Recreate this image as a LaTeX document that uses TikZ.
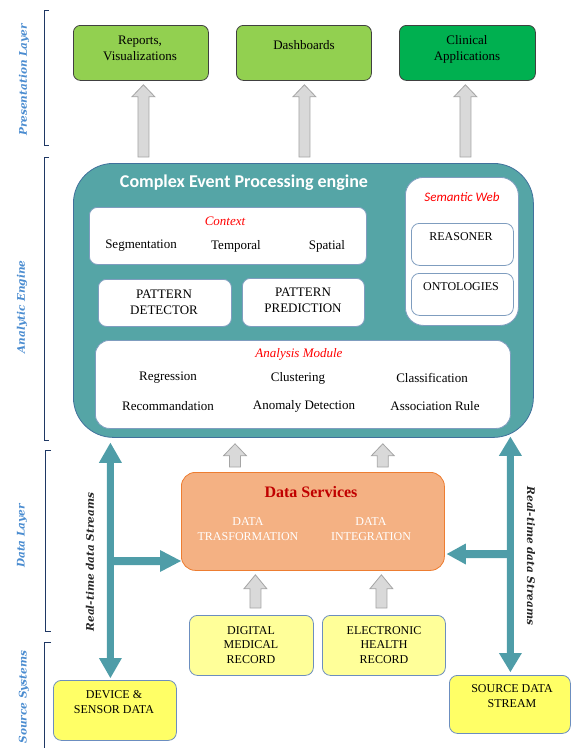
\documentclass[tikz,border=0pt]{standalone}
\usepackage{fontspec}
\setmainfont{Liberation Serif}
\newfontfamily\calfont{Carlito}
\newfontfamily\labfont{DejaVu Serif}
\usetikzlibrary{calc}
\definecolor{cepfill}{HTML}{55A5A6}
\definecolor{cepdraw}{HTML}{41719C}
\definecolor{tealarrow}{HTML}{4F9DA8}
\definecolor{lgreen}{HTML}{92D050}
\definecolor{dgreen}{HTML}{00B050}
\definecolor{innerdraw}{HTML}{7F9DBF}
\definecolor{garrfill}{HTML}{D9D9D9}
\definecolor{garrdraw}{HTML}{A5A5A5}
\definecolor{dsfill}{HTML}{F4B183}
\definecolor{dsdraw}{HTML}{ED7D31}
\definecolor{dsred}{HTML}{C00000}
\definecolor{ylight}{HTML}{FFFF99}
\definecolor{ybright}{HTML}{FFFF66}
\definecolor{ydraw}{HTML}{6C8EBF}
\definecolor{labblue}{HTML}{4A8CD0}
\definecolor{brknavy}{HTML}{1F3864}
\newcommand\blockarrow[6]{%
  \coordinate (bah) at ($(#3)!#6!(#2)$);
  \path[#1] ($(#2)!#4!90:(#3)$) -- ($(bah)!#4!-90:(#2)$) -- ($(bah)!#5!-90:(#2)$) -- (#3)
    -- ($(bah)!#5!90:(#2)$) -- ($(bah)!#4!90:(#2)$) -- ($(#2)!#4!-90:(#3)$) -- cycle;}
\newcommand\dblblockarrow[6]{%
  \coordinate (dba) at ($(#2)!#6!(#3)$);
  \coordinate (dbb) at ($(#3)!#6!(#2)$);
  \path[#1] (#2) -- ($(dba)!#5!90:(#3)$) -- ($(dba)!#4!90:(#3)$) -- ($(dbb)!#4!-90:(#2)$)
    -- ($(dbb)!#5!-90:(#2)$) -- (#3) -- ($(dbb)!#5!90:(#2)$) -- ($(dbb)!#4!90:(#2)$)
    -- ($(dba)!#4!-90:(#3)$) -- ($(dba)!#5!-90:(#3)$) -- cycle;}
\begin{document}
\begin{tikzpicture}[x=1pt,y=-1pt,
  box/.style={anchor=north west, inner sep=0pt, line width=0.8pt},
  presbox/.style={box, draw=black!75, rounded corners=7pt},
  innerbox/.style={box, draw=innerdraw, fill=white, rounded corners=8pt},
  ybox/.style={box, draw=ydraw, rounded corners=8pt},
  body/.style={font=\fontsize{13}{16}\selectfont, align=center, inner sep=0pt},
  small/.style={font=\fontsize{12}{14.5}\selectfont, align=center, inner sep=0pt},
  redit/.style={font=\fontsize{13}{16}\selectfont\itshape, text=red, inner sep=0pt},
  laylabel/.style={font=\labfont\bfseries\itshape\fontsize{10.5}{12}\selectfont, text=labblue, rotate=90, inner sep=0pt},
  streamlabel/.style={font=\labfont\bfseries\itshape\fontsize{10.5}{12}\selectfont, text=black!85, inner sep=0pt},
  brk/.style={draw=brknavy, line width=0.9pt},
  garrow/.style={fill=garrfill, draw=garrdraw, line width=0.8pt},
  tarrow/.style={fill=tealarrow}]
\useasboundingbox (0,0) rectangle (571,748);

% layer brackets and labels
\draw[brk] (49,10) -- (44,10) -- (44,145) -- (49,145);
\draw[brk] (49,157) -- (44,157) -- (44,440) -- (49,440);
\draw[brk] (51,450) -- (45,450) -- (45,631) -- (51,631);
\draw[brk] (51,642) -- (44,642) -- (44,748);
\node[laylabel] (lpres) at (24,80) {Presentation Layer};
\node[laylabel] (lana) at (22,307) {Analytic Engine};
\node[laylabel] (ldata) at (22,536) {Data Layer};
\node[laylabel] (lsrc) at (24,697) {Source Systems};

% presentation layer
\node[presbox, fill=lgreen, minimum width=135pt, minimum height=55pt] (rep) at (73,25) {};
\node[presbox, fill=lgreen, minimum width=135pt, minimum height=55pt] (dash) at (236,25) {};
\node[presbox, fill=dgreen, minimum width=136pt, minimum height=55pt] (clin) at (399,25) {};
\node[body] (reptxt) at (140,48) {Reports,\\Visualizations};
\node[body] (dashtxt) at (304,45) {Dashboards};
\node[body] (clintxt) at (467,49) {Clinical\\Applications};

% CEP engine
\node[box, draw=cepdraw, fill=cepfill, rounded corners=40pt, minimum width=460pt, minimum height=274pt] (cep) at (73,163) {};
\node[font=\calfont\bfseries\fontsize{18}{20}\selectfont, text=white, inner sep=0pt] (ceptitle) at (244,183) {Complex Event Processing engine};

\node[innerbox, minimum width=277pt, minimum height=57pt] (ctx) at (89,207) {};
\node[redit] (ctxtxt) at (225,221) {Context};
\node[body] (seg) at (141,246) {Segmentation};
\node[body] (temp) at (236,246) {Temporal};
\node[body] (spat) at (327,246) {Spatial};

\node[innerbox, minimum width=133pt, minimum height=47pt] (pd) at (98,279) {};
\node[body] (pdtxt) at (164,302) {PATTERN\\DETECTOR};
\node[innerbox, minimum width=122pt, minimum height=48pt] (pp) at (242,278) {};
\node[body] (pptxt) at (303,300) {PATTERN\\PREDICTION};

\node[innerbox, rounded corners=18pt, minimum width=113pt, minimum height=148pt] (sw) at (405,177) {};
\node[font=\calfont\itshape\fontsize{13}{15}\selectfont, text=red, inner sep=0pt] (swtxt) at (462,197) {Semantic Web};
\node[innerbox, minimum width=102pt, minimum height=42pt] (rsn) at (411,223) {};
\node[small] (rsntxt) at (461,237) {REASONER};
\node[innerbox, minimum width=102pt, minimum height=42pt] (ont) at (411,273) {};
\node[small] (onttxt) at (461,287) {ONTOLOGIES};

\node[innerbox, rounded corners=14pt, minimum width=415pt, minimum height=88pt] (am) at (95,340) {};
\node[redit] (amtxt) at (299,354) {Analysis Module};
\node[body] (reg) at (168,378) {Regression};
\node[body] (clu) at (298,378) {Clustering};
\node[body] (cla) at (432,378) {Classification};
\node[body] (rec) at (168,406) {Recommandation};
\node[body] (ano) at (304,406) {Anomaly Detection};
\node[body] (ass) at (435,406) {Association Rule};

% data services
\node[box, draw=dsdraw, fill=dsfill, rounded corners=14pt, minimum width=263pt, minimum height=98pt] (ds) at (181,472) {};
\node[font=\bfseries\fontsize{16}{18}\selectfont, text=dsred, inner sep=0pt] (dstxt) at (311,492) {Data Services};
\node[small, text=white] (dtr) at (248,529) {DATA\\TRASFORMATION};
\node[small, text=white] (dint) at (371,529) {DATA\\INTEGRATION};

% source systems
\node[ybox, fill=ylight, minimum width=124pt, minimum height=60pt] (dmr) at (189,615) {};
\node[small] (dmrtxt) at (251,645) {DIGITAL\\MEDICAL\\RECORD};
\node[ybox, fill=ylight, minimum width=123pt, minimum height=60pt] (ehr) at (322,615) {};
\node[small] (ehrtxt) at (384,645) {ELECTRONIC\\HEALTH\\RECORD};
\node[ybox, fill=ybright, minimum width=123pt, minimum height=60pt] (dev) at (53,680) {};
\node[small] (devtxt) at (114,702) {DEVICE \&\\SENSOR DATA};
\node[ybox, fill=ybright, minimum width=121pt, minimum height=58pt] (src) at (449,675) {};
\node[small] (srctxt) at (512,696) {SOURCE DATA\\STREAM};

% gray block arrows
\coordinate (g1a) at ($(rep.south |- cep.north)+(2.5,-6)$);
\coordinate (g1b) at ($(rep.south)+(2.5,4)$);
\coordinate (g2a) at ($(dash.south |- cep.north)+(0.5,-6)$);
\coordinate (g2b) at ($(dash.south)+(0.5,4)$);
\coordinate (g3a) at ($(clin.south |- cep.north)+(-2,-6)$);
\coordinate (g3b) at ($(clin.south)+(-2,4)$);
\blockarrow{garrow}{g1a}{g1b}{5.5pt}{11.5pt}{12pt}
\blockarrow{garrow}{g2a}{g2b}{5.5pt}{11.5pt}{12pt}
\blockarrow{garrow}{g3a}{g3b}{5.5pt}{11.5pt}{12pt}

\coordinate (g4a) at ($(ds.north west)+(54,-5)$);
\coordinate (g4b) at ($(ds.north west |- cep.south)+(54,6)$);
\coordinate (g5a) at ($(ds.north east)+(-62,-5)$);
\coordinate (g5b) at ($(ds.north east |- cep.south)+(-62,6)$);
\blockarrow{garrow}{g4a}{g4b}{5.5pt}{11.5pt}{12pt}
\blockarrow{garrow}{g5a}{g5b}{5.5pt}{11.5pt}{12pt}

\coordinate (g6a) at ($(dmr.north)+(4,-7)$);
\coordinate (g6b) at ($(dmr.north |- ds.south)+(4,4)$);
\coordinate (g7a) at ($(ehr.north)+(-2.5,-7)$);
\coordinate (g7b) at ($(ehr.north |- ds.south)+(-2.5,4)$);
\blockarrow{garrow}{g6a}{g6b}{5.5pt}{11.5pt}{14pt}
\blockarrow{garrow}{g7a}{g7b}{5.5pt}{11.5pt}{14pt}

% teal real-time stream arrows
\coordinate (ltop) at ($(dev.north |- cep.south)+(-4.5,5)$);
\coordinate (lbot) at ($(dev.north)+(-4.5,-2)$);
\coordinate (ljoin) at (ltop |- 0,561);
\coordinate (ltip) at (ds.west |- ljoin);
\blockarrow{tarrow}{ljoin}{ltip}{4pt}{11pt}{21pt}
\dblblockarrow{tarrow}{ltop}{lbot}{3.5pt}{11.5pt}{20pt}

\coordinate (rtop) at ($(src.north |- cep.south)+(0.5,-1)$);
\coordinate (rbot) at ($(src.north)+(0.5,-3)$);
\coordinate (rjoin) at (rtop |- 0,554);
\coordinate (rtip) at ($(ds.east |- rjoin)+(2,0)$);
\blockarrow{tarrow}{rjoin}{rtip}{4pt}{10.5pt}{19pt}
\dblblockarrow{tarrow}{rtop}{rbot}{3.5pt}{11.5pt}{19pt}

\node[streamlabel, rotate=90] (lstream) at (90,562) {Real-time data Streams};
\node[streamlabel, rotate=-90] (rstream) at (531,556) {Real-time data Streams};
\end{tikzpicture}
\end{document}
